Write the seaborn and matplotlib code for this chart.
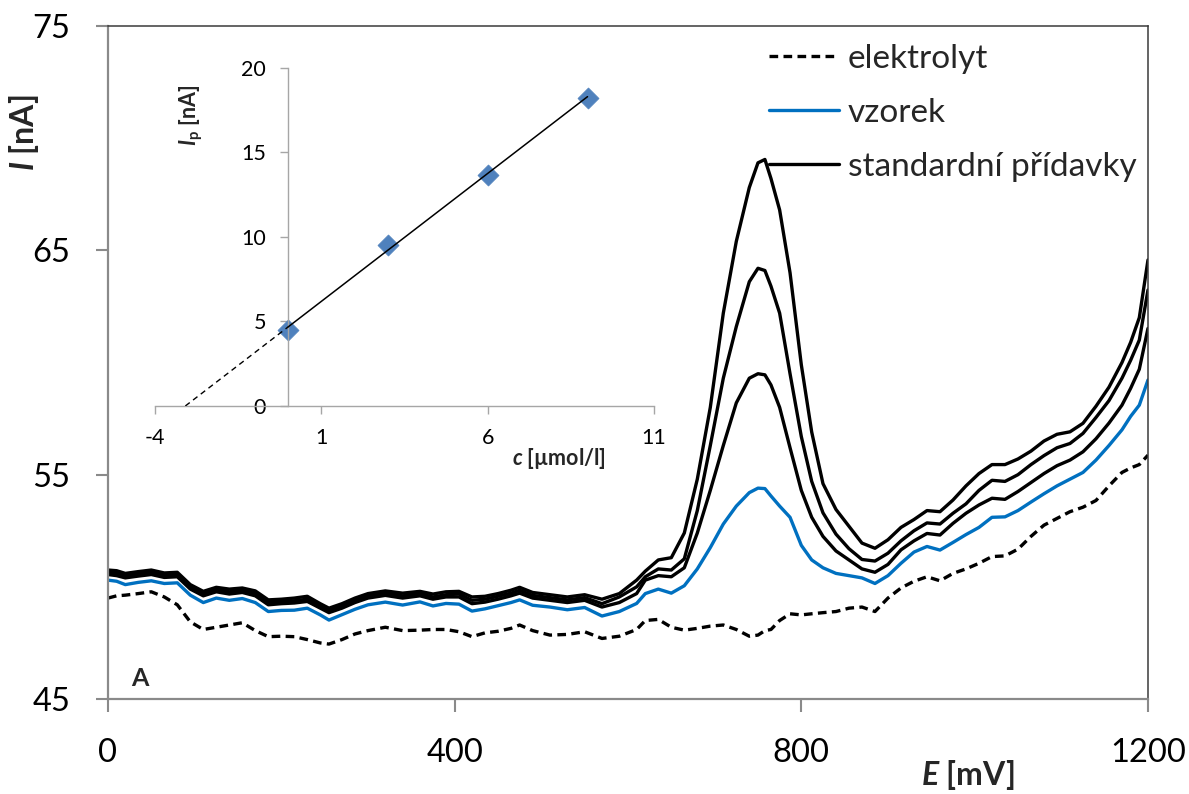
import numpy as np
import matplotlib
matplotlib.use("Agg")
import matplotlib.pyplot as plt
import seaborn as sns
from matplotlib.lines import Line2D

# Potential axis (mV)
E = [0, 10, 20, 35, 50, 65, 80, 95, 110, 125,
     140, 155, 170, 185, 200, 215, 230, 245, 255, 270,
     285, 300, 320, 340, 360, 375, 390, 405, 420, 435,
     450, 465, 475, 490, 510, 530, 550, 570, 590, 610,
     620, 635, 650, 665, 680, 695, 710, 725, 740, 750,
     758, 765, 775, 787, 800, 812, 825, 840, 855, 870,
     885, 900, 915, 930, 945, 960, 975, 990, 1005, 1020,
     1035, 1050, 1065, 1080, 1095, 1110, 1125, 1140, 1155, 1170,
     1180, 1190, 1200]

# Supporting electrolyte (nA)
elektrolyt = [49.5, 49.6, 49.63, 49.7, 49.78, 49.55, 49.2, 48.44, 48.1, 48.2,
              48.3, 48.4, 48.05, 47.78, 47.8, 47.78, 47.65, 47.5, 47.45, 47.65,
              47.9, 48.05, 48.2, 48.05, 48.07, 48.1, 48.1, 48.0, 47.78, 47.95,
              48.02, 48.15, 48.3, 48.05, 47.85, 47.88, 48.0, 47.7, 47.8, 48.1,
              48.5, 48.55, 48.2, 48.07, 48.15, 48.25, 48.3, 48.1, 47.8, 47.85,
              48.05, 48.1, 48.5, 48.8, 48.75, 48.8, 48.85, 48.9, 49.05, 49.1,
              48.9, 49.5, 49.95, 50.25, 50.45, 50.27, 50.6, 50.8, 51.05, 51.35,
              51.38, 51.68, 52.25, 52.75, 53.05, 53.35, 53.55, 53.85, 54.5, 55.1,
              55.3, 55.45, 55.87]

# Sample (nA)
vzorek = [50.3, 50.25, 50.1, 50.2, 50.27, 50.15, 50.18, 49.63, 49.3, 49.5,
          49.4, 49.48, 49.3, 48.9, 48.95, 48.96, 49.05, 48.75, 48.52, 48.76,
          49.0, 49.2, 49.32, 49.19, 49.33, 49.15, 49.26, 49.23, 48.92, 49.02,
          49.16, 49.3, 49.42, 49.18, 49.1, 48.98, 49.08, 48.7, 48.9, 49.26,
          49.7, 49.9, 49.72, 50.05, 50.8, 51.75, 52.8, 53.6, 54.2, 54.4,
          54.38, 54.05, 53.6, 53.1, 51.85, 51.2, 50.85, 50.6, 50.5, 50.4,
          50.15, 50.5, 51.05, 51.55, 51.8, 51.64, 51.98, 52.33, 52.65, 53.1,
          53.12, 53.4, 53.78, 54.15, 54.5, 54.8, 55.1, 55.65, 56.3, 57.0,
          57.6, 58.1, 59.22]

# Standard additions 1-3 (nA)
pridavek1 = [50.55, 50.5, 50.4, 50.48, 50.55, 50.42, 50.45, 49.9, 49.6, 49.78,
             49.68, 49.75, 49.6, 49.2, 49.25, 49.28, 49.35, 49.05, 48.85, 49.05,
             49.3, 49.5, 49.62, 49.5, 49.6, 49.45, 49.55, 49.55, 49.25, 49.32,
             49.45, 49.6, 49.72, 49.5, 49.4, 49.3, 49.4, 49.1, 49.3, 49.7,
             50.3, 50.5, 50.45, 50.85, 52.4, 54.3, 56.3, 58.2, 59.3, 59.5,
             59.45, 59.0, 58.0, 56.2, 54.3, 53.1, 52.25, 51.6, 51.2, 50.8,
             50.65, 51.0, 51.65, 52.05, 52.38, 52.31, 52.83, 53.28, 53.65, 53.95,
             53.9, 54.25, 54.65, 55.05, 55.4, 55.65, 56.02, 56.6, 57.3, 58.1,
             58.85, 59.7, 61.52]

pridavek2 = [50.65, 50.6, 50.5, 50.58, 50.65, 50.52, 50.55, 50.0, 49.7, 49.88,
             49.78, 49.85, 49.7, 49.3, 49.35, 49.38, 49.45, 49.15, 48.95, 49.15,
             49.4, 49.6, 49.72, 49.6, 49.7, 49.55, 49.65, 49.68, 49.4, 49.45,
             49.58, 49.72, 49.85, 49.62, 49.52, 49.42, 49.52, 49.25, 49.55, 50.0,
             50.45, 50.8, 50.75, 51.25, 53.4, 56.3, 59.3, 61.6, 63.6, 64.2,
             64.1, 63.4, 62.2, 59.5, 56.7, 54.7, 53.3, 52.35, 51.7, 51.22,
             51.15, 51.5, 52.05, 52.5, 52.85, 52.8, 53.28, 53.7, 54.3, 54.75,
             54.7, 55.0, 55.45, 55.85, 56.2, 56.39, 56.84, 57.55, 58.3, 59.3,
             60.1, 61.0, 63.23]

pridavek3 = [50.75, 50.72, 50.6, 50.68, 50.75, 50.62, 50.65, 50.1, 49.8, 49.98,
             49.9, 49.95, 49.82, 49.42, 49.45, 49.5, 49.58, 49.25, 49.05, 49.25,
             49.5, 49.7, 49.82, 49.72, 49.8, 49.68, 49.78, 49.8, 49.55, 49.58,
             49.7, 49.85, 49.98, 49.75, 49.65, 49.55, 49.65, 49.45, 49.7, 50.3,
             50.7, 51.2, 51.3, 52.4, 54.8, 58.0, 62.2, 65.4, 67.8, 68.9,
             69.05, 68.2, 66.8, 64.0, 59.9, 56.9, 54.6, 53.45, 52.7, 51.95,
             51.72, 52.1, 52.65, 53.0, 53.4, 53.35, 53.87, 54.5, 55.05, 55.45,
             55.45, 55.7, 56.05, 56.5, 56.8, 56.91, 57.29, 58.05, 58.9, 60.0,
             60.9, 62.0, 64.57]

# Calibration (standard addition) data
koncentrace = [0, 3, 6, 9]          # µmol/l
Ip = [4.5, 9.52, 13.69, 18.25]      # nA

legend_labels = ["elektrolyt", "vzorek", "standardní přídavky"]
x_ticks = [0, 400, 800, 1200]
y_ticks = [45, 55, 65, 75]
inset_x_ticks = [-4, 1, 6, 11]
inset_y_ticks = [0, 5, 10, 15, 20]

sns.set_theme(style="white")
plt.rcParams["font.family"] = ["Lato", "DejaVu Sans"]
plt.rcParams["axes.unicode_minus"] = False
plt.rcParams["mathtext.fontset"] = "custom"
plt.rcParams["mathtext.rm"] = "Lato"
plt.rcParams["mathtext.it"] = "Lato:italic"
plt.rcParams["mathtext.bf"] = "Lato:bold"
plt.rcParams["mathtext.bfit"] = "Lato:italic:bold"

BLUE = "#0070C0"
AXGRAY = "#8a8a8a"
DASH = (0, (2.6, 1.6))

fig, ax = plt.subplots(figsize=(11.89, 7.94), dpi=100)
fig.subplots_adjust(left=0.0908, right=0.9655, bottom=0.1196, top=0.9673)

sns.lineplot(x=E, y=elektrolyt, ax=ax, color="black", lw=2.4, ls=DASH,
             estimator=None, sort=False)
sns.lineplot(x=E, y=vzorek, ax=ax, color=BLUE, lw=2.4, estimator=None, sort=False)
for curve in (pridavek1, pridavek2, pridavek3):
    sns.lineplot(x=E, y=curve, ax=ax, color="black", lw=2.4,
                 estimator=None, sort=False)

ax.set_xlim(0, 1200)
ax.set_ylim(45, 75)
ax.set_xticks(x_ticks)
ax.set_yticks(y_ticks)
ax.tick_params(axis="both", which="major", bottom=True, left=True,
               direction="out", length=9, width=1.5, color=AXGRAY,
               labelsize=23.5, labelcolor="black")
ax.tick_params(axis="x", pad=19)
ax.tick_params(axis="y", pad=18)
for side in ("left", "bottom"):
    ax.spines[side].set_color(AXGRAY)
    ax.spines[side].set_linewidth(1.6)
for side in ("top", "right"):
    ax.spines[side].set_color("#3a3a3a")
    ax.spines[side].set_linewidth(1.1)

ax.set_xlabel(r"$\mathbfit{E}$ [mV]", fontsize=23, fontweight="bold")
ax.xaxis.set_label_coords(0.827, -0.088)
ax.set_ylabel(r"$\mathbfit{I}$ [nA]", fontsize=23, fontweight="bold")
ax.yaxis.set_label_coords(-0.064, 0.842)

ax.text(37, 45.93, "A", fontsize=18, fontweight="bold", ha="center", va="center")

handles = [Line2D([], [], color="black", lw=2.4, ls=DASH),
           Line2D([], [], color=BLUE, lw=2.4),
           Line2D([], [], color="black", lw=2.4)]
ax.legend(handles, legend_labels, loc="upper left", bbox_to_anchor=(0.636, 0.973),
          frameon=False, fontsize=24, handlelength=2.1, handletextpad=0.25,
          labelspacing=0.72, borderpad=0, borderaxespad=0)

# Inset: standard addition calibration
ax2 = fig.add_axes([0.1304, 0.4887, 0.4197, 0.4257])
ax2.set_facecolor("none")
sns.scatterplot(x=koncentrace, y=Ip, ax=ax2, marker="D", s=115,
                color="#4F81BD", edgecolor="#4F81BD", linewidth=0.5, zorder=2)
slope, intercept = np.polyfit(koncentrace, Ip, 1)
xs = np.array([min(koncentrace), max(koncentrace)])
ax2.plot(xs, slope * xs + intercept, color="black", lw=1.1, zorder=3)
x0 = -intercept / slope
xd = np.array([x0, min(koncentrace)])
ax2.plot(xd, slope * xd + intercept, color="black", lw=1.0, ls=(0, (4, 3)), zorder=3)

ax2.set_xlim(-4, 11)
ax2.set_ylim(0, 20)
ax2.set_xticks(inset_x_ticks)
ax2.set_yticks(inset_y_ticks)
ax2.spines["left"].set_position(("data", 0))
ax2.spines["top"].set_visible(False)
ax2.spines["right"].set_visible(False)
for side in ("left", "bottom"):
    ax2.spines[side].set_color("#a6a6a6")
    ax2.spines[side].set_linewidth(1.0)
ax2.tick_params(axis="both", which="major", bottom=True, left=True,
                direction="out", length=6, width=1.0, color="#a6a6a6",
                labelsize=15.5, labelcolor="black", pad=10)
ax2.set_xlabel(r"$\mathbfit{c}$ [µmol/l]", fontsize=15.5, fontweight="bold")
ax2.xaxis.set_label_coords(0.81, -0.118)
ax2.set_ylabel(r"$\mathbfit{I}_{\mathbf{p}}$ [nA]", fontsize=15.5, fontweight="bold")
ax2.yaxis.set_label_coords(0.1, 0.86)

fig.savefig("out.png", dpi=100)
